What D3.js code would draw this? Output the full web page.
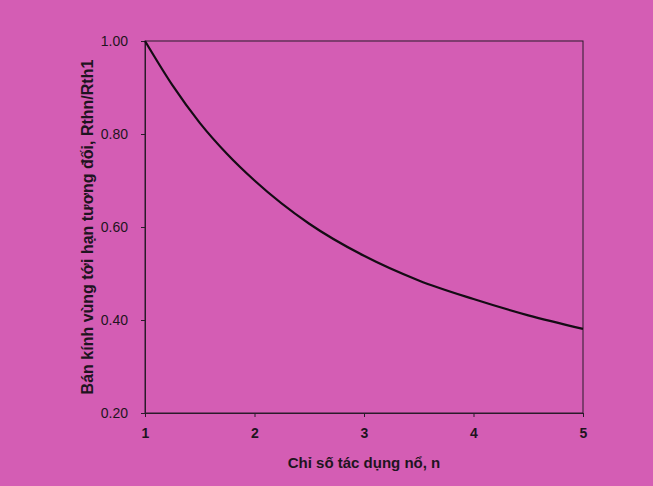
<!DOCTYPE html>
<html>
<head>
<meta charset="utf-8">
<script src="https://cdn.jsdelivr.net/npm/d3@7"></script>
<style>
  html, body { margin: 0; padding: 0; background: #d45db4; }
  svg { display: block; }
  text { font-family: Arial, "Liberation Sans", sans-serif; fill: #1e1420; }
</style>
</head>
<body>
<div id="chart"></div>
<script>
const nValues = [1, 1.25, 1.5, 1.75, 2, 2.5, 3, 3.5, 4, 4.5, 5]
const ratioValues = [1.00, 0.905, 0.824, 0.757, 0.700, 0.607, 0.538, 0.485, 0.445, 0.410, 0.381]
const xTicks = [1, 2, 3, 4, 5]
const yTicks = [0.20, 0.40, 0.60, 0.80, 1.00]
const xTitle = 'Chỉ số tác dụng nổ, n'
const yTitle = 'Bán kính vùng tới hạn tương đối, Rthn/Rth1'

const width = 653
const height = 486
const margin = { top: 41, right: 70, bottom: 73, left: 145 }

const svg = d3.select('#chart').append('svg')
              .attr('width', width)
              .attr('height', height)

svg.append('rect')
   .attr('width', width)
   .attr('height', height)
   .attr('fill', '#d45db4')

const x = d3.scaleLinear()
            .domain([1, 5])
            .range([margin.left, width - margin.right])
const y = d3.scaleLinear()
            .domain([0.2, 1.0])
            .range([height - margin.bottom, margin.top])

// frame
svg.append('rect')
   .attr('x', x(1))
   .attr('y', y(1))
   .attr('width', x(5) - x(1))
   .attr('height', y(0.2) - y(1))
   .attr('fill', 'none')
   .attr('stroke', '#2a1a2a')
   .attr('stroke-width', 1)

const xAxis = svg.append('g')
                 .attr('transform', `translate(0,${y(0.2)})`)
                 .call(d3.axisBottom(x).tickValues(xTicks).tickFormat(d3.format('d')).tickSize(4).tickPadding(11))
xAxis.selectAll('text').attr('font-size', 14).attr('font-weight', 'bold')

const yAxis = svg.append('g')
                 .attr('transform', `translate(${x(1)},0)`)
                 .call(d3.axisLeft(y).tickValues(yTicks).tickFormat(d3.format('.2f')).tickSize(4).tickPadding(13))
yAxis.selectAll('text').attr('font-size', 14)

svg.selectAll('.domain').attr('stroke', '#2a1a2a')
svg.selectAll('.tick line').attr('stroke', '#2a1a2a')

const line = d3.line()
               .x((d, i) => x(nValues[i]))
               .y(d => y(d))
               .curve(d3.curveMonotoneX)

svg.append('path')
   .datum(ratioValues)
   .attr('d', line)
   .attr('fill', 'none')
   .attr('stroke', '#140c14')
   .attr('stroke-width', 2.2)

svg.append('text')
   .attr('x', (x(1) + x(5)) / 2)
   .attr('y', 468)
   .attr('text-anchor', 'middle')
   .attr('font-size', 15)
   .attr('font-weight', 'bold')
   .text(xTitle)

svg.append('text')
   .attr('transform', `translate(93,${(y(0.2) + y(1)) / 2}) rotate(-90)`)
   .attr('text-anchor', 'middle')
   .attr('font-size', 16)
   .attr('font-weight', 'bold')
   .text(yTitle)
</script>
</body>
</html>
